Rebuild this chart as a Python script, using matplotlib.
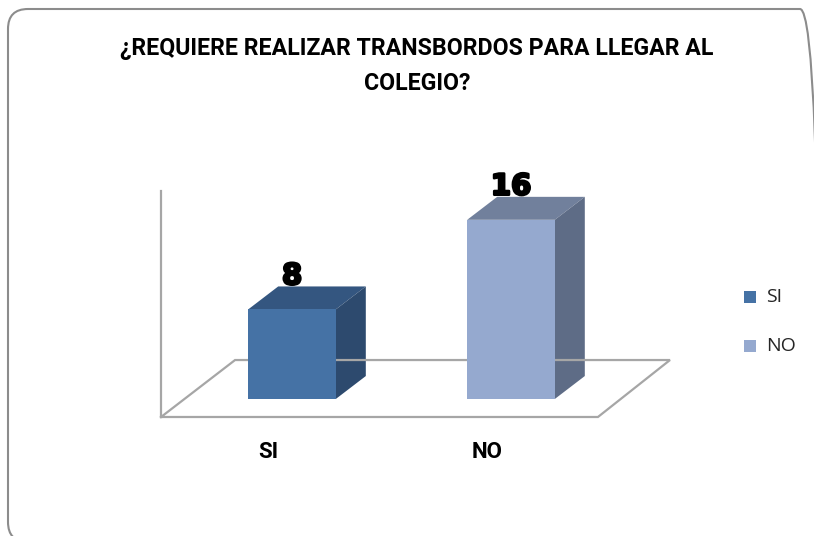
import matplotlib
matplotlib.use('Agg')
import matplotlib.pyplot as plt
import matplotlib.patheffects as pe
from matplotlib.patches import Polygon, FancyBboxPatch, Rectangle

# data
categories = ['SI', 'NO']
values = [8, 16]
front_colors = ['#4572A5', '#95A9CF']
top_colors = ['#345680', '#71809C']
side_colors = ['#2D4A6E', '#5E6C86']
title = '¿REQUIERE REALIZAR TRANSBORDOS PARA LLEGAR AL\nCOLEGIO?'

W, H, DPI = 814, 536, 100
fig = plt.figure(figsize=(W / DPI, H / DPI), dpi=DPI)
ax = fig.add_axes([0, 0, 1, 1])

# one category = 219 px, one value unit = 11.2 px; bar base at px (292, 399)
ax.set_xlim(-292 / 219, (W - 292) / 219)
ax.set_ylim((399 - H) / 11.2, 399 / 11.2)
ax.axis('off')

bar_w = 0.40
dx, dy = 0.137, 2.05   # 3-D depth offset

# floor + side wall outline
floor_x = [-0.598, 1.397, 1.726, -0.260, -0.598]
floor_y = [-1.607, -1.607, 3.48, 3.48, -1.607]
ax.plot(floor_x, floor_y, color='#A6A6A6', lw=1.6, solid_joinstyle='miter')
ax.plot([-0.598, -0.598], [-1.607, 18.57], color='#A6A6A6', lw=1.6)

for i, v in enumerate(values):
    x0 = i - bar_w / 2
    x1 = i + bar_w / 2
    ax.add_patch(Polygon([(x0, v), (x1, v), (x1 + dx, v + dy), (x0 + dx, v + dy)],
                         closed=True, facecolor=top_colors[i], edgecolor='none'))
    ax.add_patch(Polygon([(x1, 0), (x1 + dx, dy), (x1 + dx, v + dy), (x1, v)],
                         closed=True, facecolor=side_colors[i], edgecolor='none'))
    ax.bar(i, v, width=bar_w, color=front_colors[i], edgecolor='none', zorder=3)
    ax.text(i, v + 2.95, str(v), ha='center', va='center', fontsize=21,
            fontweight='bold', family='DejaVu Sans', color='black', zorder=5,
            path_effects=[pe.withStroke(linewidth=1.8, foreground='black')])
    ax.text(i - 0.11, -4.73, categories[i], ha='center', va='center',
            fontsize=16, fontweight='bold', family='Roboto', color='black')

# legend
for i, lab in enumerate(categories):
    yc = 1 - (297 + 49 * i) / H
    fig.patches.append(Rectangle((744 / W, yc - 6 / H), 12 / W, 12 / H,
                                 transform=fig.transFigure, facecolor=front_colors[i],
                                 edgecolor='none'))
    fig.text(766 / W, yc, lab, ha='left', va='center', fontsize=14,
             family='Open Sans', color='#262626')

line1, line2 = title.split('\n')
fig.text(417 / W, 1 - 48 / H, line1, ha='center', va='center',
         fontsize=16.7, fontweight='bold', family='Roboto', color='black')
fig.text(417 / W, 1 - 83 / H, line2, ha='center', va='center',
         fontsize=16.7, fontweight='bold', family='Roboto', color='black')

# rounded outer frame (right and bottom edges fall just outside the image)
frame = FancyBboxPatch((8, -6), 812, 533, boxstyle='round,pad=0,rounding_size=20',
                       transform=None, facecolor='none', edgecolor='#8C8C8C', lw=1.5)
fig.patches.append(frame)

fig.savefig('out.png', dpi=DPI, facecolor='white')
